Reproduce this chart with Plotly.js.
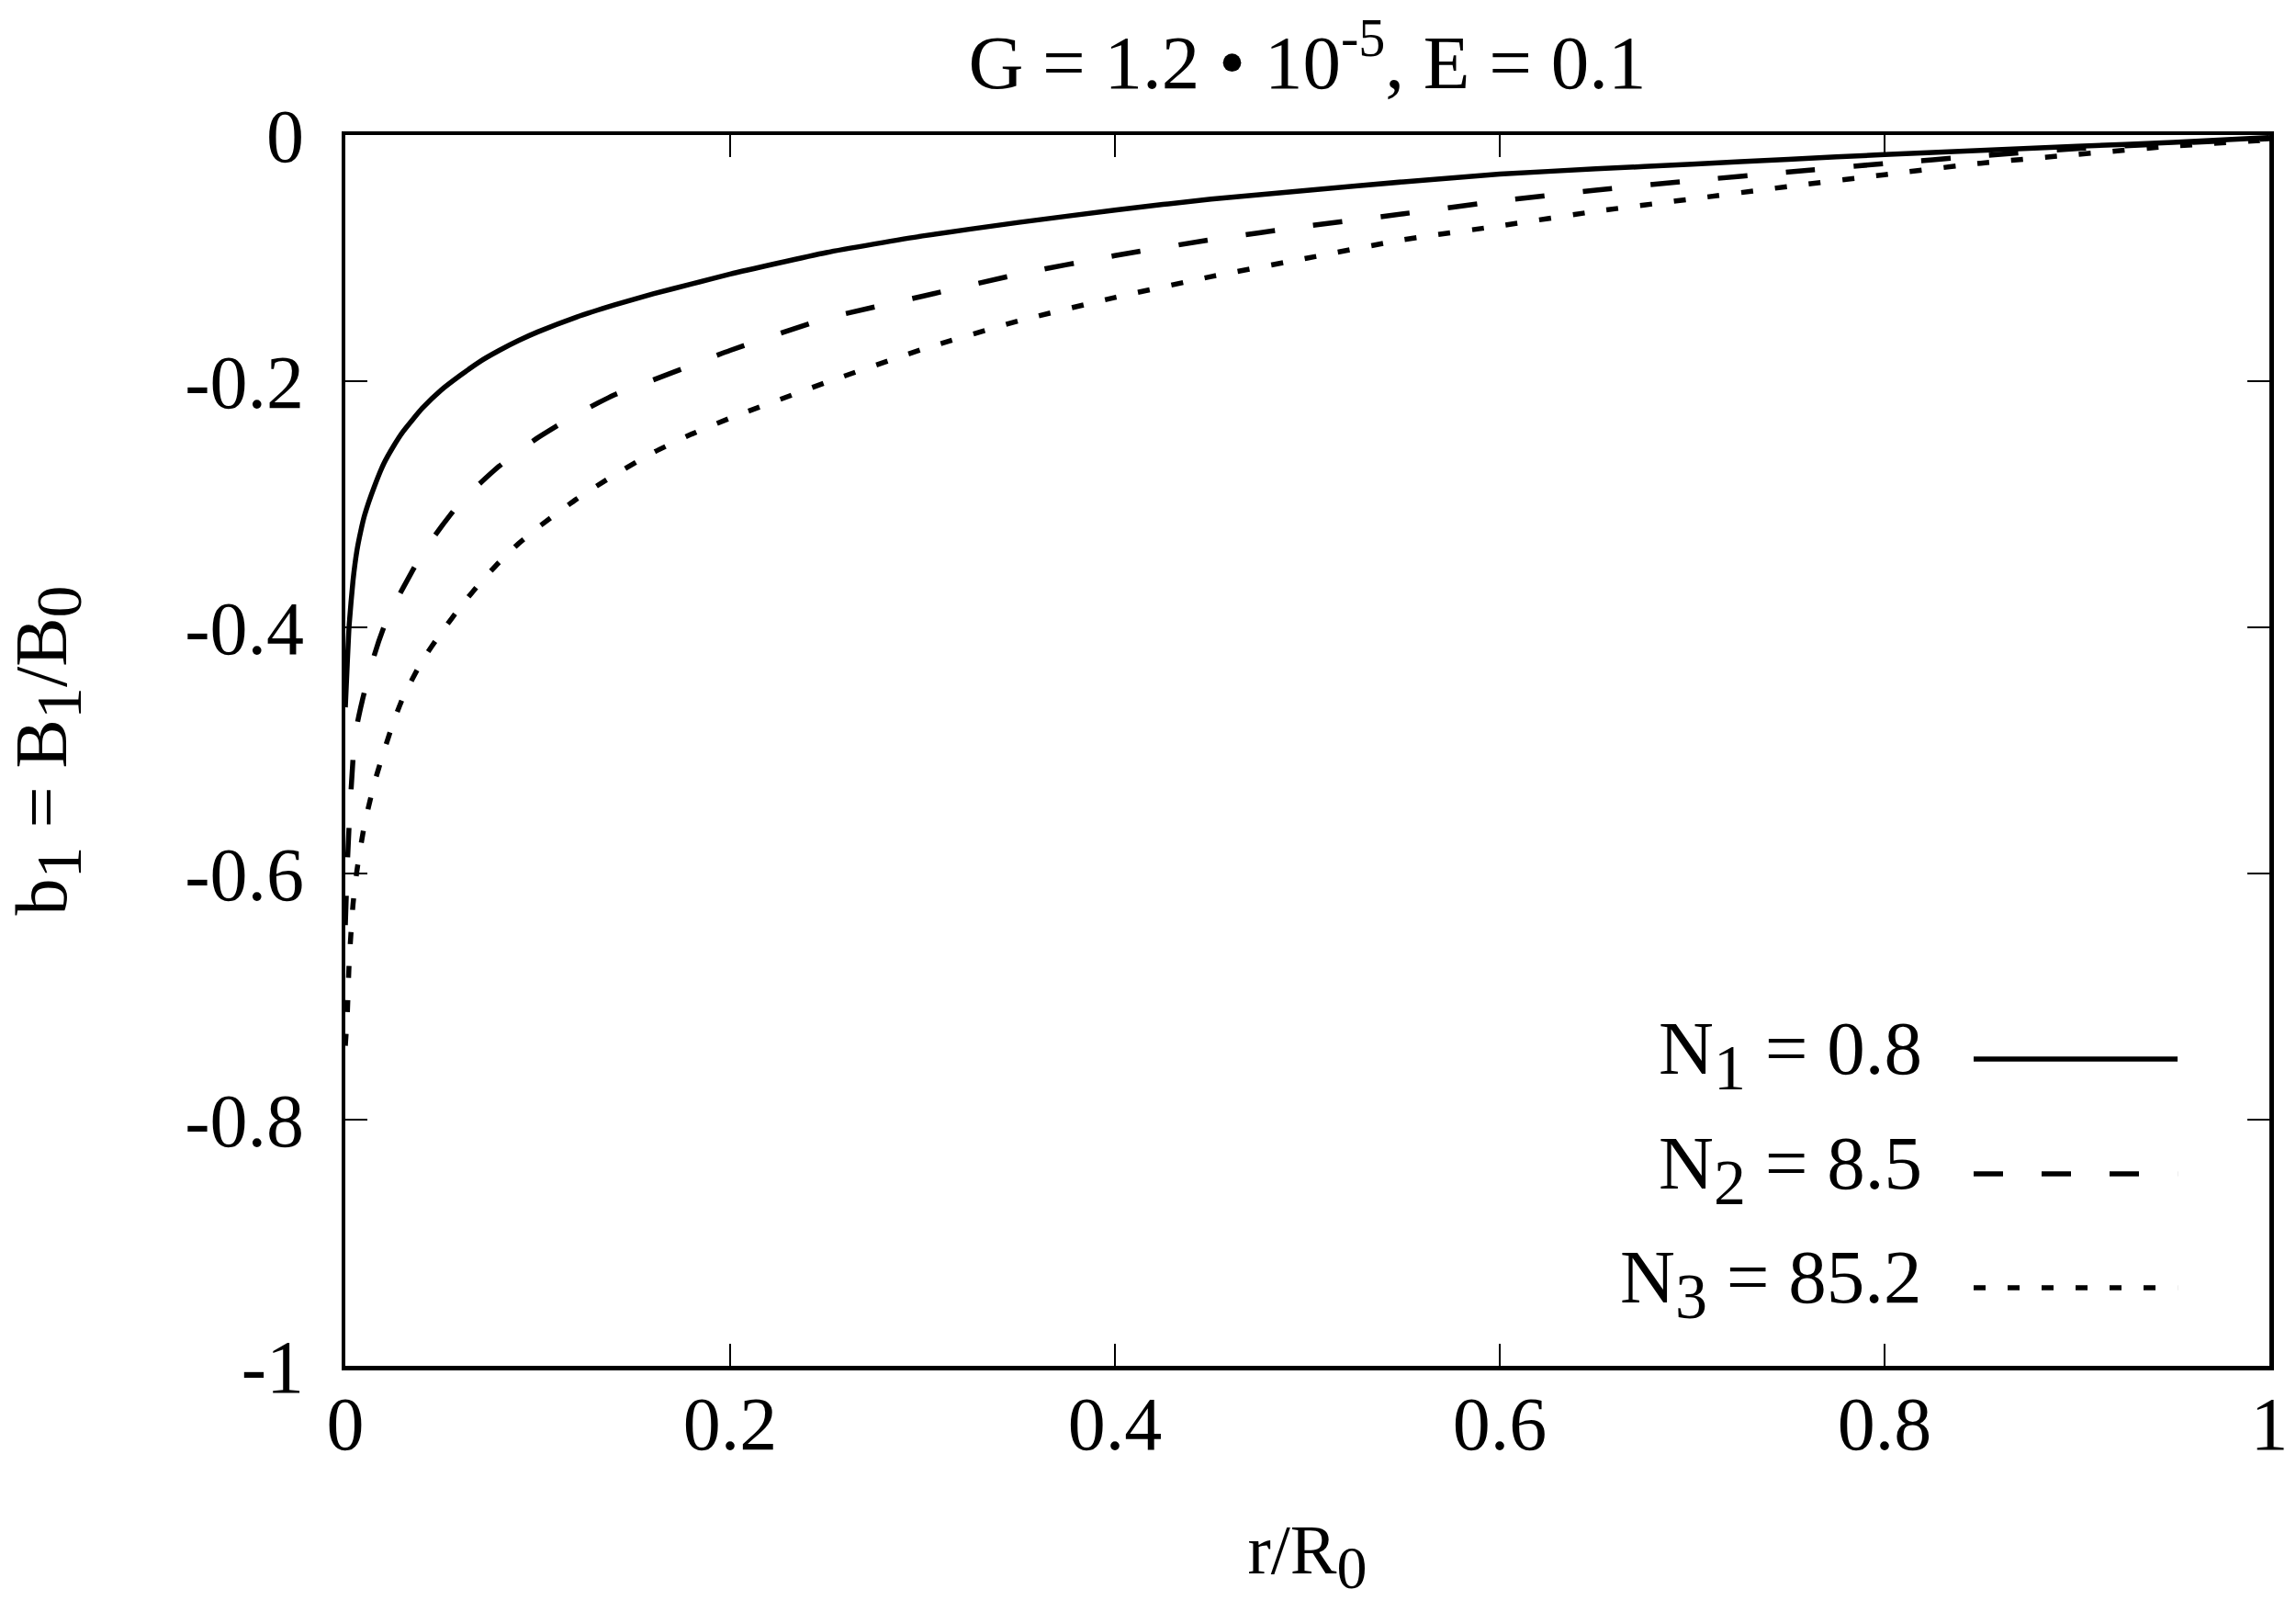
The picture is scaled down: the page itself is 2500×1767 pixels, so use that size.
<!DOCTYPE html>
<html>
<head>
<meta charset="utf-8">
<script src="https://cdn.plot.ly/plotly-3.0.1.min.js"></script>
<style>body{margin:0;background:#fff}</style>
</head>
<body>
<div id="chart" style="width:2500px;height:1767px"></div>
<script>
// r/R0 grid (denser near the axis where the curves drop steeply)
var r = [0, 0.001, 0.002, 0.004, 0.006, 0.008, 0.01, 0.015, 0.02, 0.025, 0.03,
         0.04, 0.05, 0.06, 0.07, 0.08, 0.09, 0.1, 0.12, 0.14, 0.16, 0.18, 0.2,
         0.25, 0.3, 0.35, 0.4, 0.45, 0.5, 0.55, 0.6, 0.65, 0.7, 0.75, 0.8,
         0.85, 0.9, 0.95, 1.0];

// b1 = B1/B0
var bN1 = [-0.465, -0.430, -0.398, -0.362, -0.338, -0.322, -0.309, -0.286, -0.267, -0.253, -0.241,
           -0.222, -0.207, -0.195, -0.184, -0.175, -0.167, -0.160, -0.148, -0.138, -0.129, -0.121, -0.113,
           -0.0955, -0.082, -0.071, -0.061, -0.052, -0.045, -0.038, -0.0318, -0.0275, -0.0237, -0.0197, -0.0159,
           -0.0125, -0.0092, -0.006, -0.002];
var bN2 = [-0.642, -0.595, -0.560, -0.507, -0.480, -0.465, -0.452, -0.423, -0.400, -0.383, -0.368,
           -0.340, -0.318, -0.298, -0.283, -0.269, -0.257, -0.246, -0.227, -0.211, -0.199, -0.187, -0.175,
           -0.149, -0.131, -0.113, -0.098, -0.085, -0.074, -0.064, -0.0535, -0.0448, -0.0371, -0.0300, -0.0232,
           -0.0170, -0.0110, -0.0068, -0.003];
var bN3 = [-0.740, -0.715, -0.672, -0.625, -0.598, -0.578, -0.560, -0.527, -0.501, -0.477, -0.457,
           -0.427, -0.404, -0.383, -0.364, -0.347, -0.332, -0.319, -0.296, -0.276, -0.258, -0.243, -0.230,
           -0.201, -0.174, -0.151, -0.132, -0.115, -0.100, -0.085, -0.0738, -0.0620, -0.0519, -0.0418, -0.0322,
           -0.0229, -0.0158, -0.0090, -0.004];

var yTickVals = [-1, -0.8, -0.6, -0.4, -0.2, 0];
var yTickText = ['-1', '-0.8', '-0.6', '-0.4', '-0.2', '0'];
var xTickVals = [0, 0.2, 0.4, 0.6, 0.8, 1];
var xTickText = ['0', '0.2', '0.4', '0.6', '0.8', '1'];

function sub(t, px) {
  return '<sub><span style="font-size:' + px + 'px">' + t + '</span></sub>';
}

var labels = ['N' + sub('1', 70) + ' = 0.8', 'N' + sub('2', 70) + ' = 8.5', 'N' + sub('3', 70) + ' = 85.2'];
var dashes = ['solid', '32px,42px', '13px,24px'];
var series = [bN1, bN2, bN3];

var font = 'Liberation Serif, Times New Roman, serif';

var data = [];
for (var i = 0; i < series.length; i++) {
  data.push({
    x: r,
    y: series[i],
    name: labels[i],
    mode: 'lines',
    type: 'scatter',
    line: {color: '#000', width: 5.5, dash: dashes[i], shape: 'spline', smoothing: 0.5}
  });
}

// legend drawn by hand: text on the left, line sample on the right
var legY = [0.2493, 0.156, 0.0634];
var annotations = [];
var shapes = [];
for (var j = 0; j < labels.length; j++) {
  annotations.push({
    xref: 'paper', yref: 'paper',
    x: 0.8205, y: legY[j] + 0.004,
    xanchor: 'right', yanchor: 'middle',
    text: labels[j], showarrow: false,
    font: {family: font, size: 83, color: '#000'}
  });
  shapes.push({
    type: 'line', xref: 'paper', yref: 'paper',
    x0: 0.8463, x1: 0.9523, y0: legY[j], y1: legY[j],
    line: {color: '#000', width: 5.5, dash: dashes[j]}
  });
}

var axisCommon = {
  showline: true, linecolor: '#000', linewidth: 4.5,
  mirror: 'allticks', ticks: 'inside', ticklen: 24, tickwidth: 2.5, tickcolor: '#000',
  showgrid: false, zeroline: false,
  tickfont: {family: font, size: 82, color: '#000'},
  tickmode: 'array'
};

var layout = {
  width: 2500, height: 1767,
  margin: {l: 376, r: 29, t: 147, b: 280},
  paper_bgcolor: '#fff', plot_bgcolor: '#fff',
  showlegend: false,
  font: {family: font, color: '#000'},
  title: {
    text: 'G = 1.2 \u2022 10<sup>-5</sup>, E = 0.1',
    font: {family: font, size: 83, color: '#000'},
    x: 0.5, xref: 'paper', xanchor: 'center',
    y: 1 - 67 / 1767, yref: 'container', yanchor: 'middle'
  },
  xaxis: Object.assign({}, axisCommon, {
    range: [0, 1],
    tickvals: xTickVals, ticktext: xTickText,
    ticklabelstandoff: -12,
    title: {text: 'r/R' + sub('0', 66), font: {family: font, size: 76, color: '#000'}, standoff: 66}
  }),
  yaxis: Object.assign({}, axisCommon, {
    range: [-1, 0],
    tickvals: yTickVals, ticktext: yTickText,
    ticklabelstandoff: 24,
    title: {text: 'b' + sub('1', 70) + ' = B' + sub('1', 70) + '/B' + sub('0', 70), font: {family: font, size: 80, color: '#000'}, standoff: 104}
  }),
  annotations: annotations,
  shapes: shapes
};

Plotly.newPlot('chart', data, layout, {displayModeBar: false, staticPlot: true});
</script>
</body>
</html>
